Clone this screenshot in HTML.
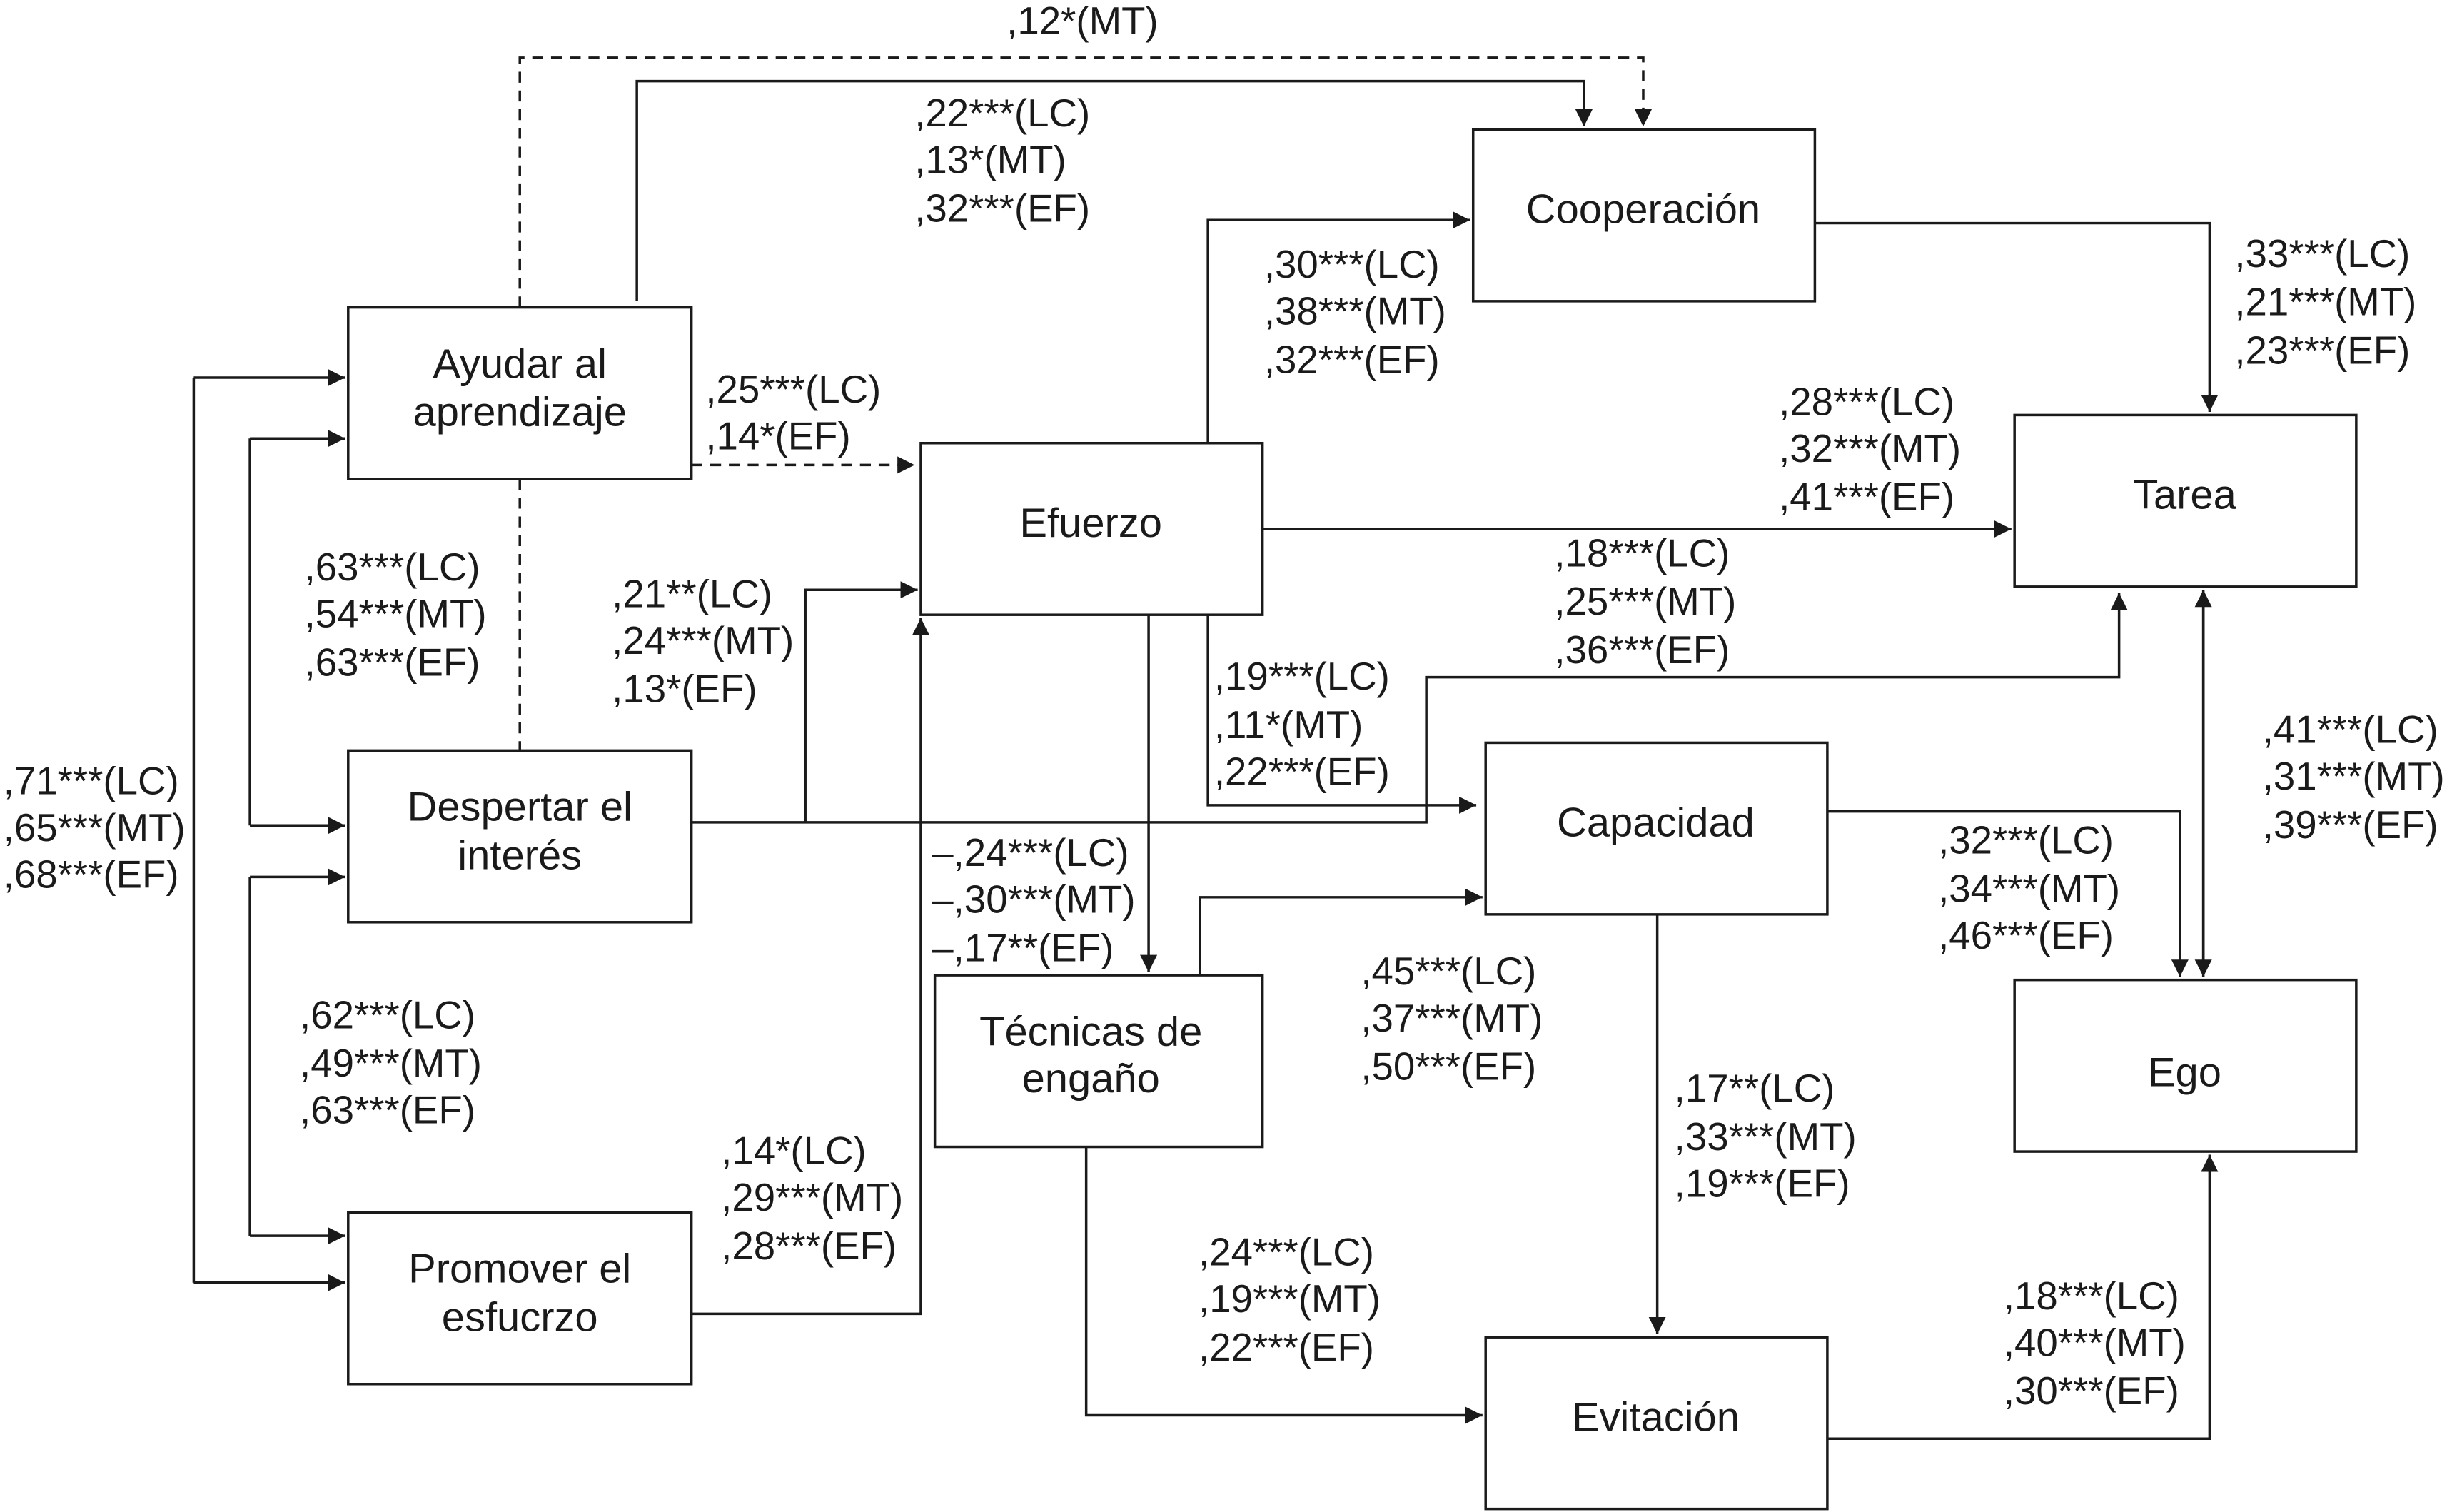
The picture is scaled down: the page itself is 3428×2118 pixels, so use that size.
<!DOCTYPE html>
<html><head><meta charset="utf-8"><style>
html,body{margin:0;padding:0;background:#fff;}
svg{display:block;}
text{font-family:"Liberation Sans",sans-serif;font-size:25px;fill:#1a1a1a;}
.b text{font-size:26.5px;}
</style></head><body>
<svg width="3428" height="2118" viewBox="0 0 1568 969" xmlns="http://www.w3.org/2000/svg">
<defs><marker id="a" viewBox="0 0 10 10" refX="10" refY="5" markerWidth="11" markerHeight="11" markerUnits="userSpaceOnUse" orient="auto"><path d="M0,0 L10,5 L0,10 z" fill="#1a1a1a"/></marker></defs>
<g fill="none" stroke="#1a1a1a" stroke-width="1.6">
<rect x="223" y="197" width="220" height="110"/>
<rect x="223" y="481" width="220" height="110"/>
<rect x="223" y="777" width="220" height="110"/>
<rect x="590" y="284" width="219" height="110"/>
<rect x="599" y="625" width="210" height="110"/>
<rect x="944" y="83" width="219" height="110"/>
<rect x="952" y="476" width="219" height="110"/>
<rect x="952" y="857" width="219" height="110"/>
<rect x="1291" y="266" width="219" height="110"/>
<rect x="1291" y="628" width="219" height="110"/>
<g stroke-dasharray="7,5">
<polyline points="333,197 333,37 1053,37 1053,81" marker-end="url(#a)"/>
<line x1="333" y1="307" x2="333" y2="481"/>
<line x1="443" y1="298" x2="586" y2="298" marker-end="url(#a)"/>
</g>
<polyline points="408,193 408,52 1015,52 1015,81" marker-end="url(#a)"/>
<line x1="124" y1="242" x2="124" y2="822"/>
<line x1="124" y1="242" x2="221" y2="242" marker-end="url(#a)"/>
<line x1="124" y1="822" x2="221" y2="822" marker-end="url(#a)"/>
<line x1="160" y1="281" x2="160" y2="529"/>
<line x1="160" y1="281" x2="221" y2="281" marker-end="url(#a)"/>
<line x1="160" y1="529" x2="221" y2="529" marker-end="url(#a)"/>
<line x1="160" y1="562" x2="160" y2="792"/>
<line x1="160" y1="562" x2="221" y2="562" marker-end="url(#a)"/>
<line x1="160" y1="792" x2="221" y2="792" marker-end="url(#a)"/>
<polyline points="443,527 914,527 914,434 1358,434 1358,380" marker-end="url(#a)"/>
<polyline points="516,527 516,378 588,378" marker-end="url(#a)"/>
<polyline points="774,284 774,141 942,141" marker-end="url(#a)"/>
<line x1="809" y1="339" x2="1289" y2="339" marker-end="url(#a)"/>
<polyline points="774,394 774,516 946,516" marker-end="url(#a)"/>
<line x1="736" y1="394" x2="736" y2="623" marker-end="url(#a)"/>
<polyline points="443,842 590,842 590,396" marker-end="url(#a)"/>
<polyline points="769,625 769,575 950,575" marker-end="url(#a)"/>
<polyline points="696,735 696,907 950,907" marker-end="url(#a)"/>
<polyline points="1163,143 1416,143 1416,264" marker-end="url(#a)"/>
<polyline points="1171,520 1397,520 1397,626" marker-end="url(#a)"/>
<line x1="1412" y1="380" x2="1412" y2="626" marker-end="url(#a)"/>
<line x1="1412" y1="624" x2="1412" y2="378" marker-end="url(#a)"/>
<line x1="1062" y1="586" x2="1062" y2="855" marker-end="url(#a)"/>
<polyline points="1171,922 1416,922 1416,740" marker-end="url(#a)"/>
</g>
<g class="b" text-anchor="middle">
<text x="333" y="242">Ayudar al</text><text x="333" y="273">aprendizaje</text>
<text x="333" y="526">Despertar el</text><text x="333" y="557">interés</text>
<text x="333" y="822">Promover el</text><text x="333" y="853">esfucrzo</text>
<text x="699" y="344">Efuerzo</text>
<text x="699" y="670">Técnicas de</text><text x="699" y="700">engaño</text>
<text x="1053" y="143">Cooperación</text>
<text x="1061" y="536">Capacidad</text>
<text x="1061" y="917">Evitación</text>
<text x="1400" y="326">Tarea</text>
<text x="1400" y="696">Ego</text>
</g>
<g>
<text x="645" y="22">,12*(MT)</text>
<text x="586" y="81">,22***(LC)</text><text x="586" y="111">,13*(MT)</text><text x="586" y="142">,32***(EF)</text>
<text x="810" y="178">,30***(LC)</text><text x="810" y="208">,38***(MT)</text><text x="810" y="239">,32***(EF)</text>
<text x="1432" y="171">,33***(LC)</text><text x="1432" y="202">,21***(MT)</text><text x="1432" y="233">,23***(EF)</text>
<text x="452" y="258">,25***(LC)</text><text x="452" y="288">,14*(EF)</text>
<text x="1140" y="266">,28***(LC)</text><text x="1140" y="296">,32***(MT)</text><text x="1140" y="327">,41***(EF)</text>
<text x="195" y="372">,63***(LC)</text><text x="195" y="402">,54***(MT)</text><text x="195" y="433">,63***(EF)</text>
<text x="392" y="389">,21**(LC)</text><text x="392" y="419">,24***(MT)</text><text x="392" y="450">,13*(EF)</text>
<text x="996" y="363">,18***(LC)</text><text x="996" y="394">,25***(MT)</text><text x="996" y="425">,36***(EF)</text>
<text x="778" y="442">,19***(LC)</text><text x="778" y="473">,11*(MT)</text><text x="778" y="503">,22***(EF)</text>
<text x="1450" y="476">,41***(LC)</text><text x="1450" y="506">,31***(MT)</text><text x="1450" y="537">,39***(EF)</text>
<text x="2" y="509">,71***(LC)</text><text x="2" y="539">,65***(MT)</text><text x="2" y="569">,68***(EF)</text>
<text x="1242" y="547">,32***(LC)</text><text x="1242" y="578">,34***(MT)</text><text x="1242" y="608">,46***(EF)</text>
<text x="597" y="555">–,24***(LC)</text><text x="597" y="585">–,30***(MT)</text><text x="597" y="616">–,17**(EF)</text>
<text x="872" y="631">,45***(LC)</text><text x="872" y="661">,37***(MT)</text><text x="872" y="692">,50***(EF)</text>
<text x="192" y="659">,62***(LC)</text><text x="192" y="690">,49***(MT)</text><text x="192" y="720">,63***(EF)</text>
<text x="1073" y="706">,17**(LC)</text><text x="1073" y="737">,33***(MT)</text><text x="1073" y="767">,19***(EF)</text>
<text x="462" y="746">,14*(LC)</text><text x="462" y="776">,29***(MT)</text><text x="462" y="807">,28***(EF)</text>
<text x="768" y="811">,24***(LC)</text><text x="768" y="841">,19***(MT)</text><text x="768" y="872">,22***(EF)</text>
<text x="1284" y="839">,18***(LC)</text><text x="1284" y="869">,40***(MT)</text><text x="1284" y="900">,30***(EF)</text>
</g>
</svg>
</body></html>
